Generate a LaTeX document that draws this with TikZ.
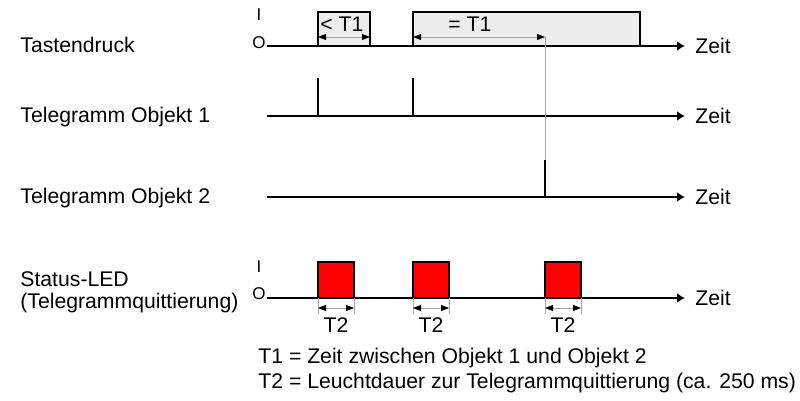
\documentclass[tikz,border=0pt]{standalone}
\usepackage{fontspec}
\setmainfont{Liberation Sans}
\usetikzlibrary{arrows.meta}

\begin{document}
\begin{tikzpicture}[x=.5pt, y=-.5pt, font=\fontsize{10.6}{12}\selectfont, inner sep=0pt,
	axis/.style={line width=1pt, -{Latex[length=4pt,width=5pt]}},
	spike/.style={line width=1pt},
	pulse/.style={draw, line width=.6pt, fill=black!7},
	led/.style={draw, line width=.6pt, fill=red},
	dim/.style={black!35, line width=.4pt, {Triangle[length=4pt,width=3pt,color=black]}-{Triangle[length=4pt,width=3pt,color=black]}},
	io/.style={font=\fontsize{8.5}{9}\selectfont}]
			\useasboundingbox (0,0) rectangle (800,401);
			%pulses
			\draw[pulse] (318,46) rectangle (370,12);
			\draw[pulse] (413,46) rectangle (640,12);
			\foreach \x in {318,413,545}
			\draw[led] (\x,262) rectangle +(36,36);
			%axis
			\foreach \y/\ytext in {
				46/taste,
				116/obj1,
				197/obj2,
				298/led
			}
			{
				\draw[axis] (267,\y) coordinate (start \ytext) -- (685,\y) coordinate (end \ytext);
				\node[anchor=base west] (zeit \ytext) at (695,\y+8) {Zeit};
			}
			%labels
			\node[anchor=base west] (tastendruck) at (20,53) {Tastendruck};
			\node[anchor=base west] (objekt1) at (20,123) {Telegramm Objekt 1};
			\node[anchor=base west] (objekt2) at (20,204) {Telegramm Objekt 2};
			\node[anchor=base west] (status) at (20,287) {Status-LED};
			\node[anchor=base west] (quitt) at (20,309) {(Telegrammquittierung)};
			\node[io] (i taste) at (259,15) {I};
			\node[io] (o taste) at (259,43) {O};
			\node[io] (i led) at (259,267) {I};
			\node[io] (o led) at (259,294) {O};
			%telegrams
			\foreach \x in {318,413}
			\draw[spike] (\x,78) -- (\x,116);
			\draw[black!35, line width=.4pt] (545,37) -- (545,160);
			\draw[spike] (545,160) -- (545,197);
			%times
			\draw[dim] (318,37) -- (370,37);
			\draw[dim] (413,37) -- (545,37);
			\node[anchor=base] (kleiner) at (342,32) {< T1};
			\node[anchor=base] (gleich) at (470,32) {= T1};
			\foreach \x/\n in {318/a,413/b,545/c}
			{
				\draw[black!35, line width=.4pt] (\x,298) -- (\x,314) (\x+36,298) -- (\x+36,314);
				\draw[dim] (\x,308) -- (\x+36,308);
				\node[anchor=base] (t2 \n) at (\x+18,333) {T2};
			}
			%legend
			\node[anchor=base west] (legende1) at (258,364) {T1 = Zeit zwischen Objekt 1 und Objekt 2};
			\node[anchor=base west] (legende2) at (258,389) {T2 = Leuchtdauer zur Telegrammquittierung (ca. 250 ms)};
\end{tikzpicture}
\end{document}
